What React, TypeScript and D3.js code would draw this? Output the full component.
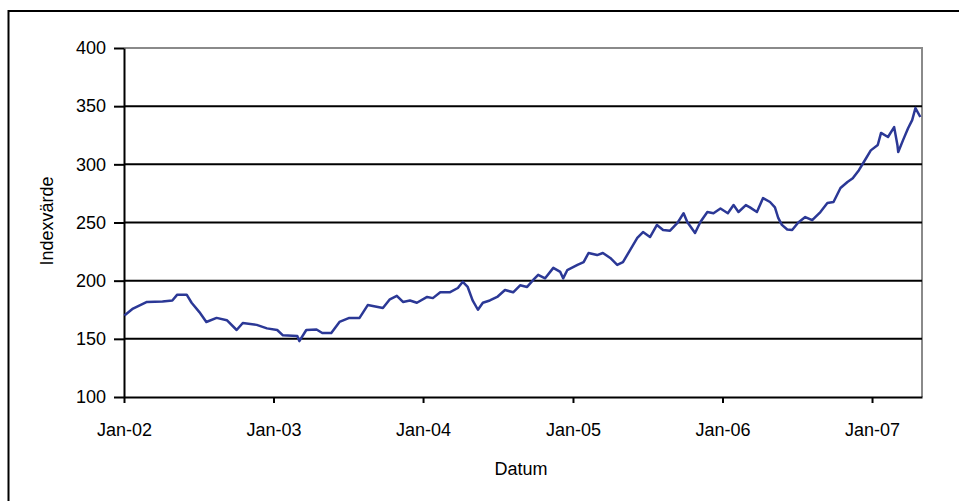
import React, { useEffect, useRef } from 'react';
import * as d3 from 'd3';

// dates and index values
const dates = [
  '2002-01-02', '2002-01-23', '2002-02-26', '2002-04-05', '2002-04-29', '2002-05-11', '2002-06-03', '2002-06-15',
  '2002-07-04', '2002-07-21', '2002-08-15', '2002-09-09', '2002-10-03', '2002-10-18', '2002-11-21', '2002-12-16',
  '2003-01-10', '2003-01-24', '2003-02-28', '2003-03-05', '2003-03-22', '2003-04-16', '2003-04-30', '2003-05-22',
  '2003-06-11', '2003-07-05', '2003-07-30', '2003-08-19', '2003-09-25', '2003-10-12', '2003-10-29', '2003-11-13',
  '2003-11-30', '2003-12-17', '2004-01-11', '2004-01-25', '2004-02-12', '2004-03-06', '2004-03-26', '2004-04-07',
  '2004-04-19', '2004-05-01', '2004-05-14', '2004-05-26', '2004-06-12', '2004-06-30', '2004-07-19', '2004-08-08',
  '2004-08-25', '2004-09-11', '2004-09-26', '2004-10-08', '2004-10-25', '2004-11-14', '2004-12-01', '2004-12-08',
  '2004-12-18', '2005-01-12', '2005-01-27', '2005-02-08', '2005-03-01', '2005-03-15', '2005-04-02', '2005-04-19',
  '2005-05-03', '2005-05-20', '2005-06-07', '2005-06-21', '2005-07-08', '2005-07-25', '2005-08-09', '2005-08-26',
  '2005-09-13', '2005-09-28', '2005-10-07', '2005-10-26', '2005-11-08', '2005-11-25', '2005-12-10', '2005-12-27',
  '2006-01-14', '2006-01-28', '2006-02-09', '2006-02-27', '2006-03-09', '2006-03-26', '2006-04-10', '2006-04-27',
  '2006-05-09', '2006-05-17', '2006-05-26', '2006-06-08', '2006-06-20', '2006-07-05', '2006-07-22', '2006-08-08',
  '2006-08-28', '2006-09-14', '2006-09-29', '2006-10-16', '2006-11-02', '2006-11-15', '2006-11-30', '2006-12-12',
  '2006-12-29', '2007-01-15', '2007-01-23', '2007-02-09', '2007-02-24', '2007-03-04', '2007-03-06', '2007-03-18',
  '2007-03-30', '2007-04-09', '2007-04-17', '2007-04-29',
];

const values = [
  170, 176, 181.7, 182, 183, 188, 188, 181,
  173, 164.5, 168, 166, 157.6, 163.6, 162, 159,
  157.6, 153, 152.4, 148, 157.6, 158, 155, 155,
  164.5, 168, 168, 179, 176.5, 184, 187, 181.7,
  183, 181, 186, 185, 190, 190, 193.7, 199,
  194.6, 183, 175, 181, 183, 186, 192, 190,
  196, 194.6, 200.6, 205, 202, 211, 207.5, 202,
  209, 213.5, 216, 223.8, 222, 223.8, 219.5, 213.5,
  216, 226, 236.7, 241.8, 237.5, 247.9, 243.6, 243,
  249.6, 258, 250.4, 241, 250.4, 259, 258, 262,
  258, 265, 259, 265, 263, 259, 271, 267.6,
  263, 254, 248, 244, 243.6, 250, 254.7, 252,
  259, 266.8, 267.6, 279.6, 284.8, 288, 295, 302,
  312, 316.6, 327, 323.5, 332, 316.6, 310.6, 321,
  331, 338, 348.4, 340.7,
];

const yTicks = [100, 150, 200, 250, 300, 350, 400];
const xTicks = ['2002-01-01', '2003-01-01', '2004-01-01', '2005-01-01', '2006-01-01', '2007-01-01'];
const xLabels = ['Jan-02', 'Jan-03', 'Jan-04', 'Jan-05', 'Jan-06', 'Jan-07'];

const App: React.FC = () => {
  const svgRef = useRef<SVGSVGElement | null>(null);

  useEffect(() => {
    if (!svgRef.current) return;
    const svg = d3.select(svgRef.current);
    svg.selectAll('*').remove();

    const width = 959;
    const height = 501;
    const margin = { top: 48, right: 37, bottom: 104, left: 124 };
    const font = 'Arial, "Liberation Sans", sans-serif';
    const fontSize = 18;
    const parse = d3.timeParse('%Y-%m-%d');

    const data = dates.map((d, i) => ({ date: parse(d) as Date, value: values[i] }));

    const x = d3.scaleTime()
      .domain([parse('2002-01-01') as Date, parse('2007-05-03') as Date])
      .range([margin.left, width - margin.right]);

    const y = d3.scaleLinear()
      .domain([100, 400])
      .range([height - margin.bottom, margin.top]);

    svg.append('rect')
      .attr('width', width).attr('height', height)
      .attr('fill', '#fff');

    // outer chart border (right and bottom fall off the picture)
    svg.append('rect')
      .attr('x', 8.5).attr('y', 11)
      .attr('width', 970).attr('height', 510)
      .attr('fill', 'none')
      .attr('stroke', '#000')
      .attr('stroke-width', 2);

    // plot frame top/right in gray
    svg.append('path')
      .attr('d', `M${margin.left},${y(400)}H${x.range()[1]}V${y(100)}`)
      .attr('fill', 'none')
      .attr('stroke', '#8a8a8a')
      .attr('stroke-width', 2);

    // gridlines
    svg.append('g')
      .selectAll('line')
      .data(yTicks.filter(t => t > 100 && t < 400))
      .enter().append('line')
      .attr('x1', margin.left).attr('x2', x.range()[1])
      .attr('y1', d => y(d)).attr('y2', d => y(d))
      .attr('stroke', '#000')
      .attr('stroke-width', 2);

    // y axis
    const yAxis = svg.append('g')
      .attr('transform', `translate(${margin.left},0)`)
      .call(d3.axisLeft(y).tickValues(yTicks).tickSize(10).tickPadding(8).tickSizeOuter(0));
    yAxis.select('.domain').attr('stroke-width', 2);
    yAxis.selectAll('.tick line').attr('stroke-width', 2);
    yAxis.selectAll('text')
      .attr('font-family', font)
      .attr('font-size', fontSize)
      .attr('fill', '#000');

    // x axis
    const xAxis = svg.append('g')
      .attr('transform', `translate(0,${y(100)})`)
      .call(d3.axisBottom(x)
        .tickValues(xTicks.map(t => parse(t) as Date))
        .tickFormat((_d, i) => xLabels[i])
        .tickSize(6).tickPadding(20).tickSizeOuter(0));
    xAxis.select('.domain').attr('stroke-width', 2);
    xAxis.selectAll('.tick line').attr('stroke-width', 2);
    xAxis.selectAll('text')
      .attr('font-family', font)
      .attr('font-size', fontSize)
      .attr('fill', '#000');

    // series
    const line = d3.line<{ date: Date; value: number }>()
      .x(d => x(d.date))
      .y(d => y(d.value));

    svg.append('path')
      .datum(data)
      .attr('fill', 'none')
      .attr('stroke', '#2b3896')
      .attr('stroke-width', 2.5)
      .attr('stroke-linejoin', 'round')
      .attr('d', line);

    // axis titles
    svg.append('text')
      .attr('x', 521)
      .attr('y', 475)
      .attr('text-anchor', 'middle')
      .attr('font-family', font)
      .attr('font-size', fontSize)
      .text('Datum');

    svg.append('text')
      .attr('transform', `translate(53,221) rotate(-90)`)
      .attr('text-anchor', 'middle')
      .attr('font-family', font)
      .attr('font-size', fontSize)
      .text('Indexvärde');
  }, []);

  return (
    <svg
      ref={svgRef}
      width={959}
      height={501}
      style={{ position: 'absolute', left: 0, top: 0 }}
    />
  );
};

export default App;
